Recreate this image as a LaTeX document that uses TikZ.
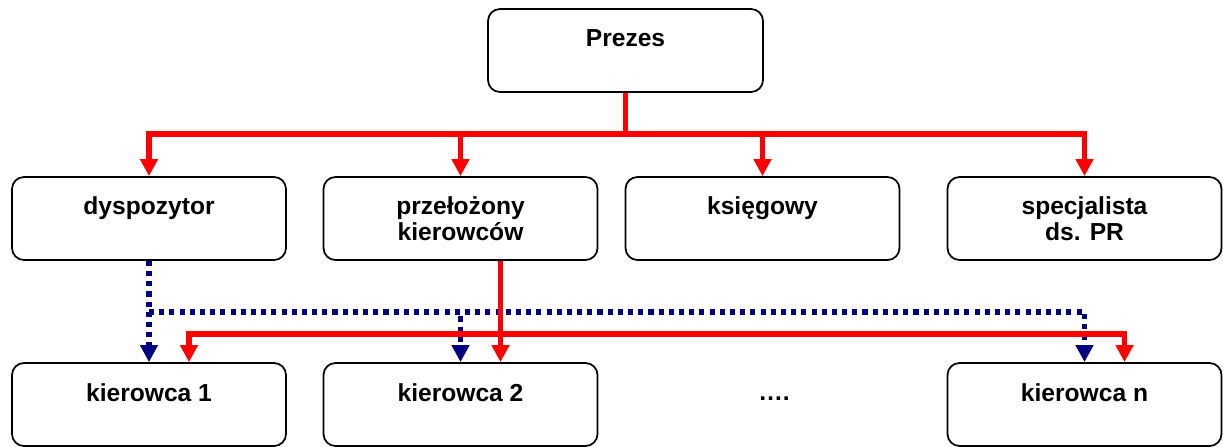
\documentclass[tikz,border=0pt]{standalone}
\usepackage{fontspec}
\setmainfont{Liberation Sans}
\usetikzlibrary{arrows.meta, positioning, calc}
\definecolor{orgred}{RGB}{255, 0, 0}
\definecolor{orgnavy}{RGB}{0, 0, 128}

\begin{document}
\begin{tikzpicture}[
        box/.style={draw=black, line width=1pt, rounded corners=0.24cm, minimum width=5.48cm, minimum height=1.66cm, inner sep=0pt},
        txt/.style={font=\fontsize{14}{14.74}\selectfont\bfseries, align=center, inner sep=0pt, anchor=north},
        sub/.style={draw=orgred, line width=3.3pt, -{Triangle[width=0.34cm, length=0.34cm]}},
        subl/.style={draw=orgred, line width=3.3pt},
        dot/.style={draw=orgnavy, line width=2.9pt, dash pattern=on 2.9pt off 2.9pt, -{Triangle[width=0.34cm, length=0.34cm]}}
      ]
        \useasboundingbox (0, 0) rectangle (24.46, -8.92);
        % boxes
        \node[box, minimum width=5.5cm] (prezes) at (12.51, -1.01) {};
        \node[box] (dysp) at (2.98, -4.37) {};
        \node[box] (przel) at (9.21, -4.37) {};
        \node[box] (ksieg) at (15.25, -4.37) {};
        \node[box] (spec) at (21.69, -4.37) {};
        \node[box] (k1) at (2.98, -8.09) {};
        \node[box] (k2) at (9.21, -8.09) {};
        \node[box] (kn) at (21.69, -8.09) {};
        % texts
        \node[txt, below=0.42cm of prezes.north] (tprezes) {Prezes};
        \node[txt, below=0.41cm of dysp.north] (tdysp) {dyspozytor};
        \node[txt, below=0.41cm of przel.north] (tprzel) {przełożony\\kierowców};
        \node[txt, below=0.41cm of ksieg.north] (tksieg) {księgowy};
        \node[txt, below=0.41cm of spec.north] (tspec) {specjalista\\ds. PR};
        \node[txt, below=0.42cm of k1.north] (tk1) {kierowca 1};
        \node[txt, below=0.42cm of k2.north] (tk2) {kierowca 2};
        \node[txt, below=0.42cm of kn.north] (tkn) {kierowca n};
        \node[txt, anchor=base] (dots) at (15.48, -8.0) {….};
        % blue dotted links
        \coordinate (dbus) at (2.98, -6.24);
        \draw[dot] (dysp.south) -- (k1.north);
        \draw[dot] (dbus) -| (k2.north);
        \draw[dot] (dbus) -| (kn.north);
        % red links
        \coordinate (bus) at (12.51, -2.68);
        \draw[subl] (prezes.south) -- (bus);
        \foreach \n in {dysp, przel, ksieg, spec} { \draw[sub] (bus) -| (\n.north); }
        \coordinate (rbus) at (10.01, -6.68);
        \draw[sub] ([xshift=0.8cm]przel.south) -- ([xshift=0.8cm]k2.north);
        \draw[sub] (rbus) -| ([xshift=0.8cm]k1.north);
        \draw[sub] (rbus) -| ([xshift=0.8cm]kn.north);
      \end{tikzpicture}
\end{document}
